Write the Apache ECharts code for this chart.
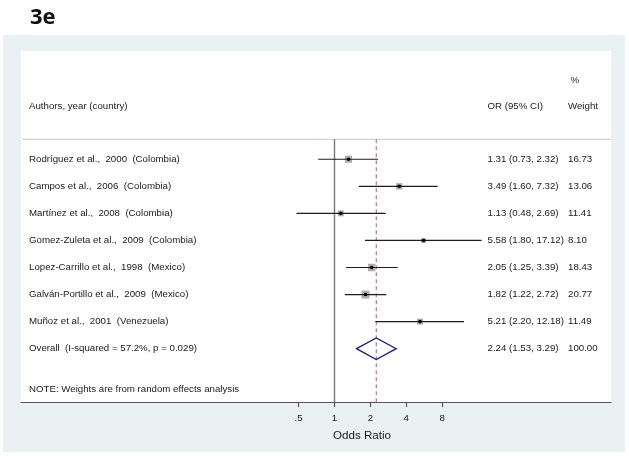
<!DOCTYPE html>
<html>
<head>
<meta charset="utf-8">
<script src="https://cdn.jsdelivr.net/npm/echarts@6/dist/echarts.min.js"></script>
<style>
html, body { margin: 0; padding: 0; background: #fff; }
#chart { width: 629px; height: 456px; }
</style>
</head>
<body>
<div id="chart"></div>
<script>
// studies (rows from top to bottom)
var studies = [
    'Rodríguez et al.,  2000  (Colombia)',
    'Campos et al.,  2006  (Colombia)',
    'Martínez et al.,  2008  (Colombia)',
    'Gomez-Zuleta et al.,  2009  (Colombia)',
    'Lopez-Carrillo et al.,  1998  (Mexico)',
    'Galván-Portillo et al.,  2009  (Mexico)',
    'Muñoz et al.,  2001  (Venezuela)'
];
var orVals = [1.31, 3.49, 1.13, 5.58, 2.05, 1.82, 5.21];
var ciLow = [0.73, 1.60, 0.48, 1.80, 1.25, 1.22, 2.20];
var ciHigh = [2.32, 7.32, 2.69, 17.12, 3.39, 2.72, 12.18];
var weights = [16.73, 13.06, 11.41, 8.10, 18.43, 20.77, 11.49];

var overallOR = 2.24;
var overallLow = 1.53;
var overallHigh = 3.29;
var overallWeight = 100.00;
var iSquared = 57.2;
var pValue = 0.029;

var tickValues = [0.5, 1, 2, 4, 8];
var tickLabels = ['.5', '1', '2', '4', '8'];

var FONT = "'Liberation Sans', Arial, sans-serif";
var FS = 9.7;
var COL_LABEL = 29, COL_OR = 487.5, COL_W = 568;
var SEP_ROW = 0.26;

function f2(v) { return v.toFixed(2); }
function ciText(o, l, h) { return f2(o) + ' (' + f2(l) + ', ' + f2(h) + ')'; }

var studyData = studies.map(function (s, i) {
    return [orVals[i], i + 1, ciLow[i], ciHigh[i], weights[i]];
});
var overallRow = studies.length + 1;
var overallData = [[overallOR, overallRow, overallLow, overallHigh, overallWeight]];

function txt(x, y, text, extra) {
    var st = { text: text, fill: '#1a1a1a', fontSize: FS, fontFamily: FONT, verticalAlign: 'middle', align: 'left' };
    for (var k in extra) st[k] = extra[k];
    return { type: 'text', x: x, y: y, style: st };
}

function renderStudy(params, api) {
    var i = params.dataIndex;
    var y = api.value(1);
    var p = api.coord([api.value(0), y]);
    var lo = api.coord([api.value(2), y]);
    var hi = api.coord([api.value(3), y]);
    var s = 1.75 * Math.sqrt(api.value(4));
    return {
        type: 'group',
        children: [
            { type: 'rect', shape: { x: p[0] - s / 2, y: p[1] - s / 2, width: s, height: s }, style: { fill: '#adadad' } },
            { type: 'line', shape: { x1: lo[0], y1: lo[1], x2: hi[0], y2: hi[1] }, style: { stroke: '#1e1e1e', lineWidth: 1.2 } },
            { type: 'circle', shape: { cx: p[0], cy: p[1], r: 1.8 }, style: { fill: '#000' } },
            txt(COL_LABEL, p[1], studies[i]),
            txt(COL_OR, p[1], ciText(orVals[i], ciLow[i], ciHigh[i])),
            txt(COL_W, p[1], f2(weights[i]))
        ]
    };
}

function renderOverall(params, api) {
    var y = api.value(1);
    var p = api.coord([api.value(0), y]);
    var lo = api.coord([api.value(2), y]);
    var hi = api.coord([api.value(3), y]);
    var h = 10.8;
    return {
        type: 'group',
        children: [
            {
                type: 'polygon',
                shape: { points: [[lo[0], p[1]], [p[0], p[1] - h], [hi[0], p[1]], [p[0], p[1] + h]] },
                style: { fill: 'none', stroke: '#1d1d7c', lineWidth: 1.3 }
            },
            txt(COL_LABEL, p[1], 'Overall  (I-squared = ' + iSquared.toFixed(1) + '%, p = ' + pValue.toFixed(3) + ')'),
            txt(COL_OR, p[1], ciText(overallOR, overallLow, overallHigh)),
            txt(COL_W, p[1], f2(overallWeight))
        ]
    };
}

function renderRef(params, api) {
    var v = api.value(0);
    var top = api.coord([v, SEP_ROW]);
    var bottom = params.coordSys.y + params.coordSys.height;
    var dashed = api.value(1) === 1;
    return {
        type: 'line',
        shape: { x1: top[0], y1: top[1], x2: top[0], y2: bottom },
        style: dashed
            ? { stroke: '#b56b7b', lineWidth: 1.1, lineDash: [4, 3] }
            : { stroke: '#767676', lineWidth: 1.4 }
    };
}

var chart = echarts.init(document.getElementById('chart'), null, { renderer: 'canvas' });

var gridLeft = 21, gridRight = 611, xOne = 334.5, pxPerDoubling = 35.9;

var option = {
    backgroundColor: '#fff',
    animation: false,
    grid: { left: gridLeft, right: 629 - gridRight, top: 51, bottom: 54, containLabel: false },
    xAxis: {
        type: 'log',
        logBase: 2,
        position: 'bottom',
        min: Math.pow(2, (gridLeft - xOne) / pxPerDoubling),
        max: Math.pow(2, (gridRight - xOne) / pxPerDoubling),
        axisLine: { show: true, onZero: false, lineStyle: { color: '#555', width: 1.2 } },
        axisTick: { show: true, length: 5, customValues: tickValues, lineStyle: { color: '#555', width: 1.2 } },
        axisLabel: {
            customValues: tickValues,
            margin: 11,
            color: '#1a1a1a',
            fontSize: FS,
            fontFamily: FONT,
            formatter: function (v) {
                for (var k = 0; k < tickValues.length; k++) {
                    if (Math.abs(v - tickValues[k]) < 1e-6) return tickLabels[k];
                }
                return '';
            }
        },
        splitLine: { show: false },
        minorTick: { show: false }
    },
    yAxis: {
        type: 'value',
        inverse: true,
        min: -3,
        max: 9.97,
        show: false
    },
    graphic: [
        { type: 'rect', z: -10, shape: { x: 3, y: 35, width: 622, height: 417 }, style: { fill: '#e9f1f3' } },
        { type: 'rect', z: -9, shape: { x: gridLeft, y: 51, width: gridRight - gridLeft, height: 351 }, style: { fill: '#fff' } },
        { type: 'text', x: 30, y: 18, style: { text: '3e', fill: '#111', fontSize: 22, fontWeight: 'bold', fontFamily: "'Open Sans', sans-serif", verticalAlign: 'middle' } },
        { type: 'line', shape: { x1: gridLeft + 1, y1: 139.3, x2: gridRight, y2: 139.3 }, style: { stroke: '#c8c8c8', lineWidth: 1 } },
        txt(570.5, 80, '%'),
        txt(COL_LABEL, 106.5, 'Authors, year (country)'),
        txt(COL_OR, 106.5, 'OR (95% CI)'),
        txt(COL_W, 106.5, 'Weight'),
        txt(COL_LABEL, 389, 'NOTE: Weights are from random effects analysis'),
        txt(362, 436, 'Odds Ratio', { align: 'center', fontSize: 11.6 })
    ],
    series: [
        {
            type: 'custom',
            name: 'refs',
            renderItem: renderRef,
            data: [[1, 0], [overallOR, 1]],
            clip: false,
            silent: true
        },
        {
            type: 'custom',
            name: 'studies',
            renderItem: renderStudy,
            data: studyData,
            clip: false
        },
        {
            type: 'custom',
            name: 'overall',
            renderItem: renderOverall,
            data: overallData,
            clip: false
        }
    ]
};

chart.setOption(option);
</script>
</body>
</html>
